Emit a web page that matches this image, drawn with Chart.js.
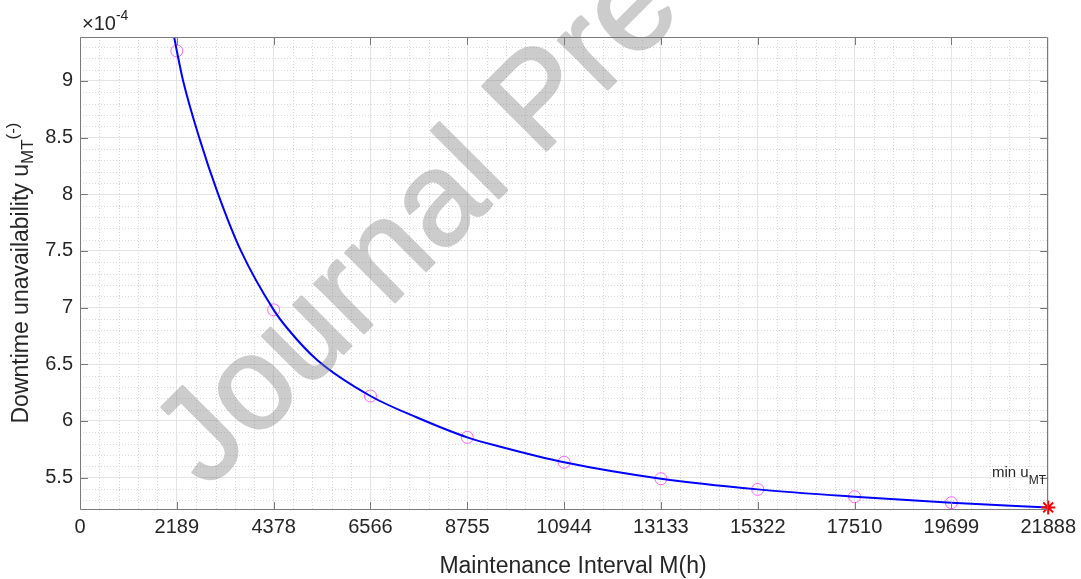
<!DOCTYPE html>
<html lang="en">
<head>
<meta charset="UTF-8">
<title>Downtime unavailability vs maintenance interval</title>
<script src="https://cdn.jsdelivr.net/npm/chart.js"></script>
<style>
    html, body {
        margin: 0;
        padding: 0;
        background-color: #ffffff;
    }
    #wrap {
        width: 1081px;
        height: 579px;
    }
</style>
</head>
<body>
<div id="wrap">
    <canvas id="myChart" width="1081" height="579"></canvas>
</div>
<script>
    // values, u in units of 1e-4
    const curveM = [2050, 2189, 2332, 2695, 3125, 3639, 4378, 4681, 5354, 6566, 7620, 8755, 9503, 10944, 13133, 15322, 17510, 19699, 21888];
    const curveU = [9.55, 9.265, 9.0, 8.5, 8.0, 7.5, 6.98, 6.82, 6.54, 6.22, 6.03, 5.855, 5.772, 5.635, 5.49, 5.396, 5.331, 5.278, 5.237];

    const markM = [2188.8, 4377.6, 6566.4, 8755.2, 10944, 13132.8, 15321.6, 17510.4, 19699.2];
    const markU = [9.265, 6.98, 6.22, 5.855, 5.635, 5.49, 5.396, 5.331, 5.278];

    const minM = [21888];
    const minU = [5.237];

    const xTicks = [0, 2188.8, 4377.6, 6566.4, 8755.2, 10944, 13132.8, 15321.6, 17510.4, 19699.2, 21888];
    const xTickLabels = ['0', '2189', '4378', '6566', '8755', '10944', '13133', '15322', '17510', '19699', '21888'];
    const yTicks = [5.5, 6, 6.5, 7, 7.5, 8, 8.5, 9];
    const yTickLabels = ['5.5', '6', '6.5', '7', '7.5', '8', '8.5', '9'];

    const FONT = "'Liberation Sans', Arial, Helvetica, sans-serif";
    const TEXT = '#262626';
    const AXIS = '#7a7a7a';

    Chart.defaults.font.family = FONT;
    Chart.defaults.color = TEXT;

    // watermark is drawn once on its own canvas so the thickened glyphs stay one flat tone
    function makeWatermark(w, h) {
        const c = document.createElement('canvas');
        c.width = w;
        c.height = h;
        const g = c.getContext('2d');
        g.translate(207, 490);
        g.rotate(-Math.PI / 4);
        g.font = '132px ' + FONT;
        g.fillStyle = '#808080';
        g.strokeStyle = '#808080';
        g.lineWidth = 2.5;
        g.lineJoin = 'round';
        g.fillText('Journal Pre-proof', 0, 0);
        g.strokeText('Journal Pre-proof', 0, 0);
        return c;
    }

    // box, inward ticks, minor dotted grid and the TeX-like labels
    const matlabLook = {
        id: 'matlabLook',
        beforeDatasetsDraw(chart) {
            const { ctx, chartArea: a, scales: { x, y } } = chart;
            ctx.save();
            ctx.strokeStyle = '#d9d9d9';
            ctx.lineWidth = 1;
            ctx.setLineDash([1, 2]);
            ctx.beginPath();
            for (let i = 0; i < xTicks.length - 1; i++) {
                const step = (xTicks[i + 1] - xTicks[i]) / 5;
                for (let k = 1; k < 5; k++) {
                    const px = Math.round(x.getPixelForValue(xTicks[i] + k * step)) + 0.5;
                    ctx.moveTo(px, a.top);
                    ctx.lineTo(px, a.bottom);
                }
            }
            for (let k = 53; k <= 93; k++) {
                if (k % 5 === 0) continue;
                const py = Math.round(y.getPixelForValue(k / 10)) + 0.5;
                ctx.moveTo(a.left, py);
                ctx.lineTo(a.right, py);
            }
            ctx.stroke();
            ctx.restore();
        },
        afterDraw(chart) {
            const { ctx, chartArea: a, scales: { x, y } } = chart;
            ctx.save();

            // axes box + ticks pointing inside
            ctx.strokeStyle = AXIS;
            ctx.lineWidth = 1;
            ctx.beginPath();
            ctx.rect(Math.round(a.left) + 0.5, Math.round(a.top) + 0.5,
                     Math.round(a.right - a.left) - 1, Math.round(a.bottom - a.top) - 1);
            xTicks.slice(1, -1).forEach(v => {
                const px = Math.round(x.getPixelForValue(v)) + 0.5;
                ctx.moveTo(px, a.bottom); ctx.lineTo(px, a.bottom - 8);
                ctx.moveTo(px, a.top); ctx.lineTo(px, a.top + 8);
            });
            yTicks.forEach(v => {
                const py = Math.round(y.getPixelForValue(v)) + 0.5;
                ctx.moveTo(a.left, py); ctx.lineTo(a.left + 8, py);
                ctx.moveTo(a.right, py); ctx.lineTo(a.right - 8, py);
            });
            ctx.stroke();

            ctx.fillStyle = TEXT;
            ctx.textBaseline = 'alphabetic';

            // x label
            ctx.font = '23px ' + FONT;
            ctx.textAlign = 'center';
            ctx.fillText('Maintenance Interval M(h)', 573, 573);

            // y label: u with subscript MT and (-) after it
            ctx.textAlign = 'left';
            ctx.translate(28, 273);
            ctx.rotate(-Math.PI / 2);
            ctx.font = '23px ' + FONT;
            const main = 'Downtime unavailability u';
            const w1 = ctx.measureText(main).width;
            ctx.font = '17px ' + FONT;
            const w2 = ctx.measureText('MT').width;
            const w3 = ctx.measureText('(-)').width;
            const sx = -(w1 + w2 + w3) / 2;
            ctx.font = '23px ' + FONT;
            ctx.fillText(main, sx, 0);
            ctx.font = '17px ' + FONT;
            ctx.fillText('MT', sx + w1, 5);
            ctx.fillText('(-)', sx + w1 + w2, -10);
            ctx.setTransform(1, 0, 0, 1, 0, 0);

            // exponent of the y axis
            ctx.font = '20px ' + FONT;
            ctx.fillText('\u00d710', 82, 30);
            const we = ctx.measureText('\u00d710').width;
            ctx.font = '14px ' + FONT;
            ctx.fillText('-4', 82 + we, 20);

            // annotation at the minimum
            ctx.font = '15px ' + FONT;
            ctx.fillText('min u', 992, 477);
            const wm = ctx.measureText('min u').width;
            ctx.font = '12px ' + FONT;
            ctx.fillText('MT', 992 + wm, 484);

            // watermark over everything
            ctx.globalAlpha = 0.4;
            ctx.drawImage(makeWatermark(chart.width, chart.height), 0, 0);
            ctx.restore();
        }
    };

    const toXY = (xs, ys) => xs.map((v, i) => ({ x: v, y: ys[i] }));

    const ctx = document.getElementById('myChart').getContext('2d');
    new Chart(ctx, {
        type: 'scatter',
        data: {
            datasets: [
                {
                    label: 'min',
                    data: toXY(minM, minU),
                    pointStyle: 'star',
                    pointRadius: 7,
                    borderColor: '#ff0000',
                    backgroundColor: '#ff0000',
                    borderWidth: 2,
                    clip: false
                },
                {
                    label: 'u_MT',
                    data: toXY(curveM, curveU),
                    showLine: true,
                    borderColor: '#0000ff',
                    borderWidth: 2,
                    pointRadius: 0,
                    cubicInterpolationMode: 'monotone'
                },
                {
                    label: 'points',
                    data: toXY(markM, markU),
                    pointStyle: 'circle',
                    pointRadius: 6,
                    borderColor: '#ff66ff',
                    backgroundColor: 'rgba(0,0,0,0)',
                    borderWidth: 1,
                    clip: false
                }
            ]
        },
        options: {
            responsive: false,
            animation: false,
            devicePixelRatio: 1,
            layout: { padding: { left: 0, right: 32, top: 37, bottom: 0 } },
            plugins: {
                legend: { display: false },
                tooltip: { enabled: false }
            },
            scales: {
                x: {
                    type: 'linear',
                    min: 0,
                    max: 21888,
                    afterBuildTicks: s => { s.ticks = xTicks.map(v => ({ value: v })); },
                    afterFit: s => { s.height = 69; },
                    ticks: {
                        autoSkip: false,
                        maxRotation: 0,
                        padding: 5,
                        font: { size: 20 },
                        color: TEXT,
                        callback: (v, i) => xTickLabels[i]
                    },
                    grid: { color: '#e4e4e4', lineWidth: 1, drawTicks: false },
                    border: { display: false }
                },
                y: {
                    type: 'linear',
                    min: 5.214,
                    max: 9.388,
                    afterBuildTicks: s => { s.ticks = yTicks.map(v => ({ value: v })); },
                    afterFit: s => { s.width = 80; },
                    ticks: {
                        padding: 7,
                        font: { size: 20 },
                        color: TEXT,
                        callback: (v, i) => yTickLabels[i]
                    },
                    grid: { color: '#e4e4e4', lineWidth: 1, drawTicks: false },
                    border: { display: false }
                }
            }
        },
        plugins: [matlabLook]
    });
</script>
</body>
</html>
